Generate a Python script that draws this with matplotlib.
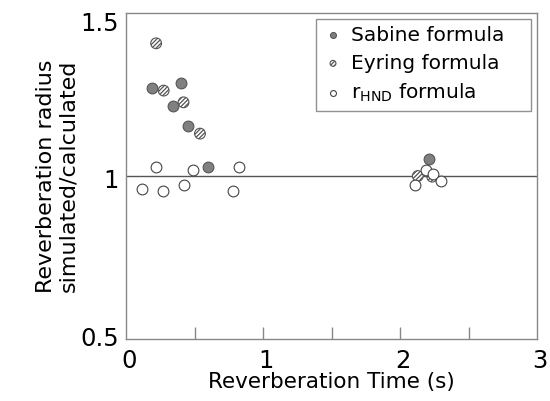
import matplotlib
matplotlib.use("Agg")
import matplotlib.pyplot as plt
from matplotlib.transforms import offset_copy

plt.rcParams['font.family'] = ['DejaVu Sans']
plt.rcParams['hatch.linewidth'] = 0.9

# Sabine formula
sabine_t = [0.19, 0.40, 0.34, 0.45, 0.60, 2.21]
sabine_r = [1.271, 1.285, 1.215, 1.153, 1.029, 1.053]
# Eyring formula
eyring_t = [0.22, 0.275, 0.42, 0.54, 2.13, 2.235]
eyring_r = [1.407, 1.262, 1.226, 1.130, 1.000, 0.998]
# rHND formula
hnd_t = [0.22, 0.49, 0.825, 0.117, 0.268, 0.425, 0.78, 2.19, 2.243, 2.30, 2.107]
hnd_r = [1.027, 1.017, 1.027, 0.961, 0.955, 0.971, 0.955, 1.017, 1.007, 0.984, 0.973]

xticks = [0, 1, 2, 3]
yticks = [0.5, 1, 1.5]
yticklabels = ['0.5', '1', '1.5']

fig = plt.figure(figsize=(5.5, 4.01), dpi=100)
ax = fig.add_axes([126/550, 1 - 339/401, 411/550, 326/401])

ax.axhline(1.0, color='#555555', lw=1.0, zorder=1)

ms = 60
ax.scatter(sabine_t, sabine_r, s=ms, facecolor='#808080', edgecolor='#555555',
           linewidths=0.8, label='Sabine formula', zorder=3)
ax.scatter(eyring_t, eyring_r, s=ms, facecolor='white', edgecolor='#555555',
           hatch='////////', linewidths=0.8, label='Eyring formula', zorder=3)
ax.scatter(hnd_t, hnd_r, s=ms, facecolor='white', edgecolor='#444444',
           linewidths=0.8, label=r'r$_\mathregular{HND}$ formula', zorder=4)

ax.set_xlim(0, 3)
ax.set_ylim(0.5, 1.5)
ax.set_xticks([0.5, 1, 1.5, 2, 2.5])
ax.set_xticklabels([])
ax.tick_params(axis='x', direction='in', length=9, color='#888888', width=1)
ax.set_yticks([])

xtr = offset_copy(ax.get_xaxis_transform(), fig=fig, x=2, y=-7, units='points')
for xt in xticks:
    ax.text(xt, 0, str(xt), transform=xtr, ha='center', va='top', fontsize=17.5)

yoffs = {0.5: (0, 'center'), 1: (-3.5, 'center'), 1.5: (1, 'top')}
for yv, lab in zip(yticks, yticklabels):
    dy, va = yoffs[yv]
    ytr = offset_copy(ax.get_yaxis_transform(), fig=fig, x=-5, y=dy, units='points')
    ax.text(0, yv, lab, transform=ytr, ha='right', va=va, fontsize=17.5)

for sp in ax.spines.values():
    sp.set_color('#888888')
    sp.set_linewidth(1.0)

ax.set_xlabel('Reverberation Time (s)', fontsize=15.5, labelpad=20)
ax.set_ylabel('Reverberation radius\nsimulated/calculated', fontsize=16, labelpad=34)

leg = ax.legend(loc='upper right', bbox_to_anchor=(0.462, 0.5, 0.523, 0.483),
                mode='expand', fontsize=14.5,
                frameon=True, fancybox=False, edgecolor='#777777',
                markerscale=0.55, handletextpad=0.4, borderpad=0.35,
                labelspacing=0.45, handlelength=1.0, borderaxespad=0)
leg.get_frame().set_linewidth(1.0)

fig.savefig('out.png', dpi=100)
